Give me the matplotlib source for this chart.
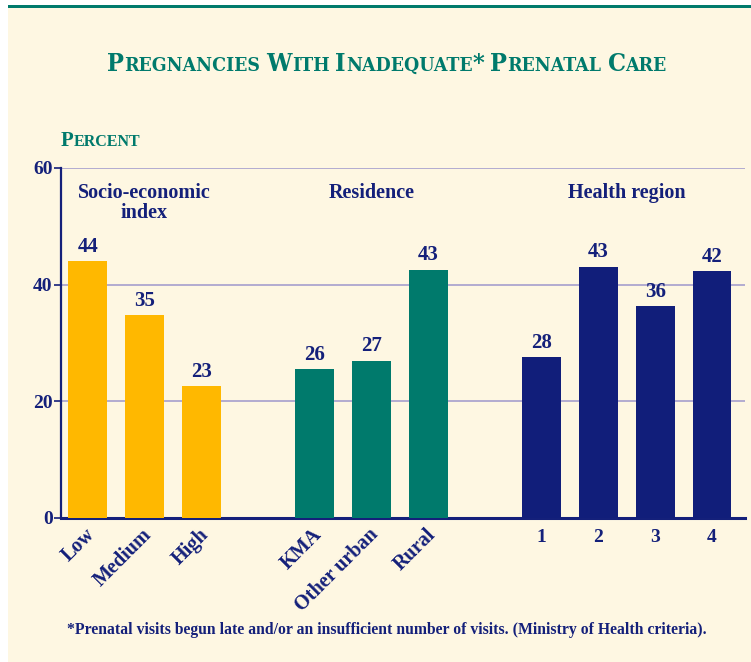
import matplotlib
matplotlib.use("Agg")
import matplotlib.pyplot as plt
from matplotlib.patches import Rectangle
from matplotlib.transforms import IdentityTransform

# ---- data ----
categories = ["Low", "Medium", "High", "KMA", "Other urban", "Rural", "1", "2", "3", "4"]
values = [44.1, 34.8, 22.6, 25.6, 27.0, 42.6, 27.6, 43.1, 36.3, 42.3]
value_labels = ["44", "35", "23", "26", "27", "43", "28", "43", "36", "42"]
groups = ["Socio-economic\nindex", "Residence", "Health region"]
group_members = [[0, 1, 2], [3, 4, 5], [6, 7, 8, 9]]
yticks = [0, 20, 40, 60]
title = "Pregnancies With Inadequate* Prenatal Care"
ylabel = "Percent"
footnote = "*Prenatal visits begun late and/or an insufficient number of visits. (Ministry of Health criteria)."

# ---- style ----
CREAM = "#FEF7E2"
TEAL = "#007A6C"
NAVY = "#14207A"
GOLD = "#FFB800"
GRID = "#ADA6CF"
group_colors = [GOLD, TEAL, "#111E7A"]
SERIF = ["Liberation Serif", "DejaVu Serif"]

W, H = 751, 662
fig = plt.figure(figsize=(W / 100, H / 100), dpi=100)
fig.patch.set_facecolor("white")
fig.patches.append(Rectangle((8 / W, 0), 1 - 8 / W, 1 - 8 / H, transform=fig.transFigure,
                             facecolor=CREAM, edgecolor="none", zorder=-10))
fig.patches.append(Rectangle((8 / W, 1 - 8 / H), 1 - 8 / W, 3 / H, transform=fig.transFigure,
                             facecolor=TEAL, edgecolor="none", zorder=-9))

ax = fig.add_axes([61 / W, 1 - 518 / H, (745 - 61) / W, (518 - 168) / H])
ax.set_facecolor("none")

positions = []
for gi, members in enumerate(group_members):
    for k, idx in enumerate(members):
        positions.append(idx + gi)
colors = []
for gi, members in enumerate(group_members):
    colors += [group_colors[gi]] * len(members)

ax.bar(positions, values, width=0.68, color=colors, zorder=3)
for p, v, lab in zip(positions, values, value_labels):
    ax.annotate(lab, (p, v), xytext=(0, 3), textcoords="offset points", ha="center", va="bottom",
                fontsize=15, fontweight="bold", color=NAVY, family=SERIF)

ax.set_xlim(-0.47, 11.58)
ax.set_ylim(0, 60)
ax.set_yticks(yticks)
ax.set_yticklabels([str(t) for t in yticks], fontsize=14, fontweight="bold", color=NAVY, family=SERIF)
ax.tick_params(axis="y", length=5, width=1.2, color=NAVY, pad=1)
for t in yticks[1:]:
    ax.axhline(t, color=GRID, lw=1.3, zorder=1)
for s in ["top", "right"]:
    ax.spines[s].set_visible(False)
ax.spines["left"].set_color(NAVY)
ax.spines["left"].set_linewidth(1.6)
ax.spines["bottom"].set_color(NAVY)
ax.spines["bottom"].set_linewidth(2.2)

ax.set_xticks(positions)
ax.set_xticklabels([])
ax.tick_params(axis="x", length=0)
for i, (p, c) in enumerate(zip(positions, categories)):
    if i < 6:
        ax.annotate(c, (p, 0), xytext=(-2, -5), textcoords="offset points", rotation=45,
                    rotation_mode="anchor", ha="right", va="top", fontsize=14.5,
                    fontweight="bold", color=NAVY, family=SERIF)
    else:
        ax.annotate(c, (p, 0), xytext=(0, -8), textcoords="offset points", ha="center",
                    va="top", fontsize=14, fontweight="bold", color=NAVY, family=SERIF)

for g, members in zip(groups, group_members):
    ps = [positions[m] for m in members]
    cx = (min(ps) + max(ps)) / 2
    ax.text(cx, 57.4, g, ha="center", va="top", fontsize=14.5, fontweight="bold",
            color=NAVY, family=SERIF, linespacing=1.0)

# ---- small caps helper ----
fig.canvas.draw()
renderer = fig.canvas.get_renderer()


def small_caps(x, y, text, big, small, color, align="center", stretch="normal", fam=SERIF):
    pieces = []
    words = text.split(" ")
    for wi, w in enumerate(words):
        if wi > 0:
            pieces.append((" ", None))
        run = ""
        run_big = None
        for ch in w:
            isbig = not ch.islower()
            if run_big is None or isbig == run_big:
                run += ch
                run_big = isbig
            else:
                pieces.append((run.upper(), big if run_big else small))
                run = ch
                run_big = isbig
        pieces.append((run.upper(), big if run_big else small))
    probe = fig.text(0, 0, "AA", fontsize=small, fontweight="bold", family=fam, fontstretch=stretch)
    w2 = probe.get_window_extent(renderer).width
    probe.set_text("A A")
    space = probe.get_window_extent(renderer).width - w2
    probe.remove()
    arts = []
    cur = 0.0
    for s, sz in pieces:
        if sz is None:
            cur += space
            continue
        t = fig.text(cur, y, s, fontsize=sz, fontweight="bold", color=color, family=fam,
                     fontstretch=stretch, transform=IdentityTransform(), va="baseline", ha="left")
        arts.append((t, cur))
        cur += t.get_window_extent(renderer).width
    shift = x - cur / 2 if align == "center" else x
    for t, c in arts:
        t.set_x(c + shift)
    return arts, cur


# title: fit to the reference width (about 559 px)
arts, width = small_caps(387, H - 71, title, 24, 18.5, TEAL, stretch="condensed",
                         fam=["DejaVu Serif"])
k = 559.0 / width
for t, _ in arts:
    t.remove()
small_caps(387, H - 71, title, 24 * k, 18.5 * k, TEAL, stretch="condensed", fam=["DejaVu Serif"])
small_caps(61, H - 146, ylabel, 15, 11.5, TEAL, align="left")

fig.text(387 / W, 1 - 630 / H, footnote, ha="center", va="center", fontsize=11.3,
         fontweight="bold", color=NAVY, family=SERIF)

fig.savefig("out.png", dpi=100, facecolor=fig.get_facecolor())
